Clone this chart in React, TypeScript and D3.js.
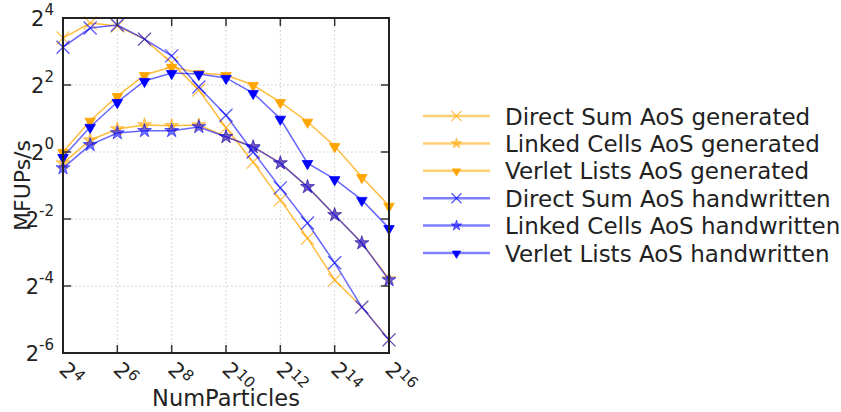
import React from "react";
import * as d3 from "d3";

// NumParticles = 2^4 ... 2^16
const numParticles = [16, 32, 64, 128, 256, 512, 1024, 2048, 4096, 8192, 16384, 32768, 65536];

// MFUPs/s values
const directSumGenerated = [10.56, 14.42, 13.55, 10.34, 6.32, 3.61, 1.65, 0.812, 0.371, 0.168, 0.0708, 0.0404, 0.0205];
const linkedCellsGenerated = [0.795, 1.28, 1.61, 1.75, 1.72, 1.75, 1.37, 1.11, 0.795, 0.486, 0.272, 0.152, 0.0723];
const verletListsGenerated = [1.0, 1.91, 3.18, 4.92, 5.82, 5.13, 4.92, 4.0, 2.81, 1.87, 1.13, 0.595, 0.328];
const directSumHandwritten = [8.75, 13.0, 13.83, 10.34, 7.31, 3.84, 2.14, 1.0, 0.476, 0.23, 0.101, 0.0404, 0.0205];
const linkedCellsHandwritten = [0.717, 1.16, 1.48, 1.55, 1.55, 1.68, 1.37, 1.11, 0.795, 0.486, 0.272, 0.152, 0.0708];
const verletListsHandwritten = [0.901, 1.68, 2.81, 4.35, 5.13, 5.03, 4.63, 3.39, 1.99, 0.795, 0.57, 0.371, 0.207];

const seriesNames = [
  "Direct Sum AoS generated",
  "Linked Cells AoS generated",
  "Verlet Lists AoS generated",
  "Direct Sum AoS handwritten",
  "Linked Cells AoS handwritten",
  "Verlet Lists AoS handwritten",
];
const seriesValues = [
  directSumGenerated,
  linkedCellsGenerated,
  verletListsGenerated,
  directSumHandwritten,
  linkedCellsHandwritten,
  verletListsHandwritten,
];
const seriesMarkers = ["x", "star", "tri", "x", "star", "tri"];
const seriesColors = ["#FFA500", "#FFA500", "#FFA500", "#0000FF", "#0000FF", "#0000FF"];

const xTickExps = [4, 6, 8, 10, 12, 14, 16];
const yTickExps = [-6, -4, -2, 0, 2, 4];

const W = 841;
const H = 412;
const left = 63, right = 389, top = 18, bottom = 353;
const FONT = "DejaVu Sans, sans-serif";

function Marker({ type, color, x, y, small }: { type: string; color: string; x: number; y: number; small?: boolean }) {
  if (type === "x") {
    const s = small ? 5 : 6.5;
    return (
      <path
        d={`M${x - s},${y - s}L${x + s},${y + s}M${x - s},${y + s}L${x + s},${y - s}`}
        stroke={color}
        strokeWidth={1.3}
        strokeOpacity={0.65}
        fill="none"
      />
    );
  }
  if (type === "star") {
    const p = d3.symbol().type(d3.symbolStar).size(small ? 34 : 60)() as string;
    return (
      <path
        d={p}
        transform={`translate(${x},${y})`}
        fill={color}
        fillOpacity={0.55}
        stroke={color}
        strokeOpacity={0.55}
        strokeWidth={1}
      />
    );
  }
  const p = d3.symbol().type(d3.symbolTriangle).size(small ? 30 : 48)() as string;
  return <path d={p} transform={`translate(${x},${y + 0.5}) rotate(180)`} fill={color} stroke={color} strokeWidth={0.8} />;
}

export default function App() {
  const x = d3.scaleLog().base(2).domain([16, 65536]).range([left, right]);
  const y = d3.scaleLog().base(2).domain([Math.pow(2, -6), 16]).range([bottom, top]);
  const line = d3
    .line<number>()
    .x((_, i) => x(numParticles[i]))
    .y((d) => y(d));

  const legendX0 = 423, legendX1 = 490, legendTextX = 505, legendY0 = 116, legendDy = 27.4;

  return (
    <svg width={W} height={H} style={{ position: "absolute", left: 0, top: 0, background: "#fff" }} fontFamily={FONT}>
      <rect width={W} height={H} fill="#fff" />
      {/* grid */}
      {xTickExps.map((e) => (
        <line key={"gx" + e} x1={x(Math.pow(2, e))} x2={x(Math.pow(2, e))} y1={top} y2={bottom} stroke="#c8c8c8" strokeWidth={1} strokeDasharray="1.5,2.5" />
      ))}
      {yTickExps.map((e) => (
        <line key={"gy" + e} y1={y(Math.pow(2, e))} y2={y(Math.pow(2, e))} x1={left} x2={right} stroke="#c8c8c8" strokeWidth={1} strokeDasharray="1.5,2.5" />
      ))}
      {/* series */}
      {seriesValues.map((vals, si) => (
        <g key={"s" + si}>
          <path d={line(vals) as string} fill="none" stroke={seriesColors[si]} strokeOpacity={si < 3 ? 0.75 : 0.6} strokeWidth={1.5} />
          {vals.map((v, i) => (
            <Marker key={i} type={seriesMarkers[si]} color={seriesColors[si]} x={x(numParticles[i])} y={y(v)} />
          ))}
        </g>
      ))}
      {/* ticks */}
      {xTickExps.map((e) => {
        const px = x(Math.pow(2, e));
        return (
          <g key={"tx" + e}>
            <line x1={px} x2={px} y1={bottom} y2={bottom - 8} stroke="#333" strokeWidth={1.5} />
            <line x1={px} x2={px} y1={top} y2={top + 8} stroke="#333" strokeWidth={1.5} />
            <text transform={`translate(${px - 5},${bottom + 18}) rotate(45)`} fontSize={21} fill="#222">
              2<tspan fontSize={15} dy={-7}>{e}</tspan>
            </text>
          </g>
        );
      })}
      {yTickExps.map((e) => {
        const py = y(Math.pow(2, e));
        return (
          <g key={"ty" + e}>
            <line x1={left} x2={left + 8} y1={py} y2={py} stroke="#333" strokeWidth={1.5} />
            <line x1={right} x2={right - 8} y1={py} y2={py} stroke="#333" strokeWidth={1.5} />
            <text x={54} y={py + 7.5} textAnchor="end" fontSize={21} fill="#222">
              2<tspan fontSize={15} dy={-10.5}>{e}</tspan>
            </text>
          </g>
        );
      })}
      {/* frame */}
      <rect x={left} y={top} width={right - left} height={bottom - top} fill="none" stroke="#222" strokeWidth={2} />
      {/* axis labels */}
      <text x={(left + right) / 2} y={406} textAnchor="middle" fontSize={22.5} fill="#222">
        NumParticles
      </text>
      <text transform={`translate(30,${(top + bottom) / 2}) rotate(-90)`} textAnchor="middle" fontSize={22} fill="#222">
        MFUPs/s
      </text>
      {/* legend */}
      {seriesNames.map((name, si) => {
        const ly = legendY0 + si * legendDy;
        return (
          <g key={"l" + si}>
            <line x1={legendX0} x2={legendX1} y1={ly} y2={ly} stroke={seriesColors[si]} strokeOpacity={si < 3 ? 0.55 : 0.5} strokeWidth={2.5} />
            <Marker type={seriesMarkers[si]} color={seriesColors[si]} x={(legendX0 + legendX1) / 2} y={ly} small />
            <text x={legendTextX} y={ly + 8.5} fontSize={23} fill="#222">
              {name}
            </text>
          </g>
        );
      })}
    </svg>
  );
}
